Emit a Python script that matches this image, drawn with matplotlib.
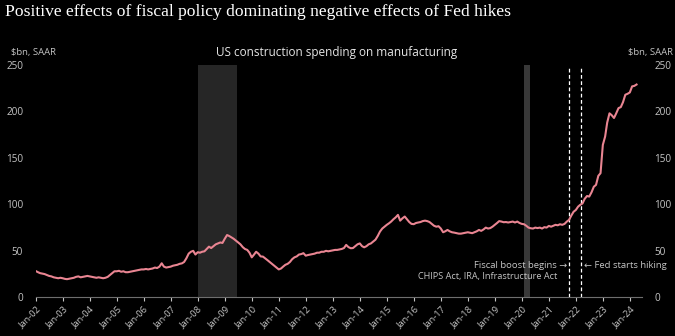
import matplotlib
matplotlib.use("Agg")
import matplotlib.pyplot as plt
import matplotlib.dates as mdates
import numpy as np
import pandas as pd

# US construction spending on manufacturing, $bn SAAR, monthly
vals_2002 = [28.3, 27, 26, 25.5, 25, 24, 23, 22.5, 21.5, 21, 20.5, 21]
vals_2003 = [20.5, 19.8, 19.5, 20, 20.5, 21, 22, 22.5, 21.5, 22, 22.5, 23]
vals_2004 = [22.5, 22, 21.5, 21, 21.5, 21, 20.5, 21, 22, 24, 26, 28]
vals_2005 = [28, 28.5, 27.5, 28, 27, 27, 27.5, 28, 28.5, 29, 29.5, 30]
vals_2006 = [30, 30.5, 30, 30.5, 31, 32, 31.5, 33, 36.6, 33, 32, 32.5]
vals_2007 = [33, 34, 34.5, 35, 36, 36.5, 38, 42, 47, 49, 50, 46]
vals_2008 = [48.5, 48, 49, 49.5, 52, 54.5, 53, 55, 57, 58, 59, 58.5]
vals_2009 = [63, 67, 66, 64.5, 63, 61, 59, 57, 54, 52, 51, 48]
vals_2010 = [43, 46, 49, 47, 44, 43.8, 42, 40, 38, 36, 34, 32]
vals_2011 = [30, 31, 33, 35, 36, 38, 41, 43, 44, 46, 46.5, 47.5]
vals_2012 = [44.8, 45.5, 46, 46.5, 47, 48, 48, 49, 49, 50, 49.5, 50]
vals_2013 = [50.5, 51, 51, 51.5, 52, 53, 56.4, 54, 52.8, 53, 55, 57]
vals_2014 = [58, 55, 53.8, 55, 57, 58, 60, 62, 66, 70.7, 74, 76]
vals_2015 = [78, 79.7, 81.5, 84, 86, 88.7, 82.5, 85, 86.9, 84, 81, 79]
vals_2016 = [78.7, 80, 80.5, 81, 82, 82.5, 82, 81, 79, 77, 76, 76.5]
vals_2017 = [74, 70, 71, 72.5, 71, 70, 69.6, 69, 68.5, 68.5, 69, 69.5]
vals_2018 = [70, 69.5, 69, 70, 71, 72.5, 71.5, 73, 75, 74, 74.5, 76]
vals_2019 = [78, 80, 82, 81.5, 80.8, 81, 80.5, 81, 81.5, 80.5, 81.5, 80]
vals_2020 = [79, 78.6, 77, 75, 74.3, 74, 75, 74.5, 75, 74, 75.5, 75]
vals_2021 = [76.8, 76, 77, 78, 77.5, 78.6, 78, 79, 81.5, 83.3, 88, 92]
vals_2022 = [94, 97.6, 99.5, 101, 106, 109, 108.4, 113, 119, 121, 130.7, 133.6]
vals_2023 = [164, 173, 188, 198, 196, 193, 198, 203.6, 204.7, 210, 218, 219]
vals_2024 = [220.5, 227, 227.5, 229]

spending = (vals_2002 + vals_2003 + vals_2004 + vals_2005 + vals_2006 + vals_2007
            + vals_2008 + vals_2009 + vals_2010 + vals_2011 + vals_2012 + vals_2013
            + vals_2014 + vals_2015 + vals_2016 + vals_2017 + vals_2018 + vals_2019
            + vals_2020 + vals_2021 + vals_2022 + vals_2023 + vals_2024)
months = pd.date_range("2002-01-01", periods=len(spending), freq="MS")

recessions = [("2008-01-01", "2009-06-15"), ("2020-02-01", "2020-04-15")]
recession_colors = ["#262626", "#383838"]
fiscal_boost = "2021-10-01"
fed_hike = "2022-03-15"

bg = "black"
grey = "#c4c4c4"
pink = "#e98592"
sans = ["Open Sans", "DejaVu Sans"]

fig = plt.figure(figsize=(6.75, 3.36), dpi=100, facecolor=bg)
ax = fig.add_axes([0.0529, 0.1152, 0.8978, 0.6913], facecolor=bg)

for (s, e), c in zip(recessions, recession_colors):
    ax.axvspan(pd.Timestamp(s), pd.Timestamp(e), color=c, lw=0, zorder=1)

ax.plot(months, spending, color=pink, lw=1.5, zorder=3)

for d in [fiscal_boost, fed_hike]:
    ax.vlines(pd.Timestamp(d), 0, 248, colors="white", linestyles=(0, (3, 2)), lw=0.9, zorder=2)

ax.set_ylim(0, 250)
ax.set_xlim(pd.Timestamp("2002-01-01"), pd.Timestamp("2024-06-10"))
ax.set_yticks([0, 50, 100, 150, 200, 250])

ax.xaxis.set_major_locator(mdates.YearLocator())
ax.xaxis.set_major_formatter(mdates.DateFormatter("Jan-%y"))
for lbl in ax.get_xticklabels():
    lbl.set_rotation(45)
    lbl.set_ha("right")
    lbl.set_rotation_mode("anchor")
    lbl.set_family(sans)
ax.tick_params(axis="x", colors=grey, labelsize=6.7, length=3, width=0.8, pad=2)
ax.tick_params(axis="y", colors=grey, labelsize=7.2, length=0, pad=9,
               labelleft=True, labelright=True)
for lbl in ax.get_yticklabels():
    lbl.set_family(sans)

for side in ["top", "left", "right"]:
    ax.spines[side].set_visible(False)
ax.spines["bottom"].set_color("#6e6e6e")
ax.spines["bottom"].set_linewidth(0.8)

# annotations
ax.text(pd.Timestamp("2021-09-01"), 34, "Fiscal boost begins \u2192", color=grey,
        fontsize=6.8, ha="right", va="center", family=sans)
ax.text(pd.Timestamp("2021-05-01"), 22, "CHIPS Act, IRA, Infrastructure Act", color=grey,
        fontsize=6.6, ha="right", va="center", family=sans)
ax.text(pd.Timestamp("2022-04-15"), 34, "\u2190 Fed starts hiking", color=grey,
        fontsize=6.8, ha="left", va="center", family=sans)

fig.text(0.007, 0.963, "Positive effects of fiscal policy dominating negative effects of Fed hikes",
         color="white", fontsize=12.6, family="Liberation Serif", ha="left", va="center")
fig.text(0.498, 0.845, "US construction spending on manufacturing", color="#e6e6e6",
         fontsize=8.5, family=sans, ha="center", va="center")
fig.text(0.017, 0.845, "\\$bn, SAAR", color=grey, fontsize=6.8, family=sans, ha="left", va="center")
fig.text(0.997, 0.845, "\\$bn, SAAR", color=grey, fontsize=6.8, family=sans, ha="right", va="center")

fig.savefig("out.png", dpi=100, facecolor=bg)
